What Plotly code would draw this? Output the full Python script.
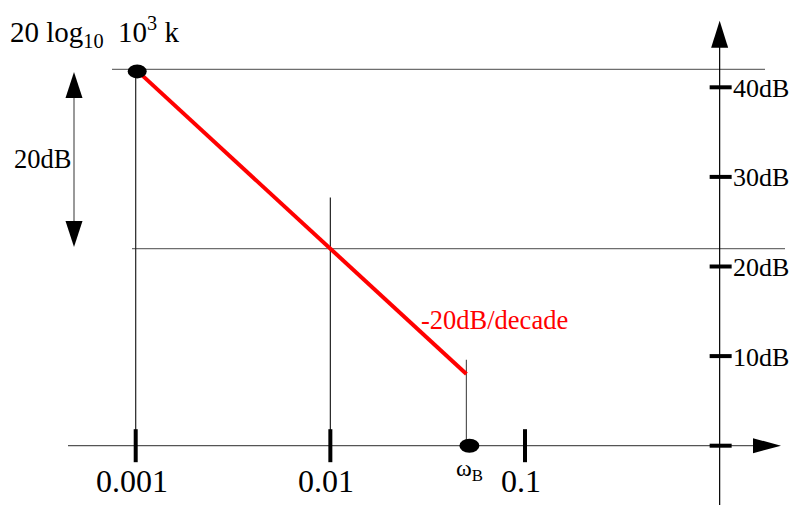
import numpy as np
import plotly.graph_objects as go

# ---------------- data ----------------
freq_ticks = [0.001, 0.01, 0.1]
freq_tick_labels = ["0.001", "0.01", "0.1"]
db_ticks = [0, 10, 20, 30, 40]
db_tick_labels = ["", "10dB", "20dB", "30dB", "40dB"]
asym_freq = [0.001, 0.01, 0.05]      # asymptote corner points
asym_db = [42, 22, 8.0]              # dB values along -20dB/decade line
omega_B = 0.05
start_db = 42
decade_db = 22
guide_top_01 = 27.7                  # top of the guide at 0.01
guide_top_wb = 9.6                   # top of the guide at omega_B

# ---------------- layout geometry ----------------
W, H = 795, 507
X0_PX, DEC_PX = 135.7, 194.65
Y0_PX, DB_PX = 445.7, 8.96
xmin = -3 - X0_PX / DEC_PX
xmax = xmin + W / DEC_PX
ymax = Y0_PX / DB_PX
ymin = -(H - Y0_PX) / DB_PX

def lx(px):
    return xmin + px / DEC_PX

def ly(py):
    return (Y0_PX - py) / DB_PX

FONT = "Liberation Serif"
fig = go.Figure()

lx_f = np.log10(asym_freq)
fig.add_trace(go.Scatter(x=lx_f, y=asym_db, mode="lines",
                         line=dict(color="#ff0000", width=4),
                         hoverinfo="skip", showlegend=False))

shapes = []
def seg(x0, y0, x1, y1, color="#000", width=1.2):
    shapes.append(dict(type="line", xref="x", yref="y", x0=x0, y0=y0, x1=x1, y1=y1,
                       line=dict(color=color, width=width), layer="below"))

# horizontal guide lines
seg(lx(112), start_db, lx(765), start_db, color="#6e6e6e")
seg(lx(132), decade_db, lx(785), decade_db, color="#6e6e6e")
# vertical guide lines
seg(np.log10(asym_freq[0]), 0, np.log10(asym_freq[0]), start_db, color="#222")
seg(np.log10(asym_freq[1]), 0, np.log10(asym_freq[1]), guide_top_01, color="#222")
seg(np.log10(omega_B), 0, np.log10(omega_B), guide_top_wb, color="#555")
# x axis
seg(lx(68), 0, lx(760), 0, color="#555")
# y axis (at omega = 1)
seg(0, ly(505), 0, ly(40), color="#000")
# left 20dB double arrow
seg(lx(74), ly(90), lx(74), ly(230), color="#555")

# x-axis ticks
for f in freq_ticks:
    shapes.append(dict(type="line", xref="x", yref="y", ysizemode="pixel",
                       yanchor=0, x0=np.log10(f), x1=np.log10(f), y0=-16.5, y1=16.5,
                       line=dict(color="#000", width=4)))
# y-axis ticks
for d in db_ticks:
    shapes.append(dict(type="line", xref="x", yref="y", xsizemode="pixel",
                       xanchor=0, x0=-10, x1=12, y0=d, y1=d,
                       line=dict(color="#000", width=4)))

# dots
shapes.append(dict(type="circle", xref="x", yref="y", xsizemode="pixel", ysizemode="pixel",
                   xanchor=np.log10(asym_freq[0]), yanchor=start_db,
                   x0=-8, x1=11, y0=-9, y1=5, fillcolor="#000", line=dict(width=0)))
shapes.append(dict(type="circle", xref="x", yref="y", xsizemode="pixel", ysizemode="pixel",
                   xanchor=np.log10(omega_B), yanchor=0,
                   x0=-7, x1=13, y0=-7, y1=7, fillcolor="#000", line=dict(width=0)))

# arrowheads
def head(xa, ya, path):
    shapes.append(dict(type="path", xref="x", yref="y", xsizemode="pixel", ysizemode="pixel",
                       xanchor=xa, yanchor=ya, path=path, fillcolor="#000",
                       line=dict(width=0)))

head(lx(781), 0, "M 0 0 L -28 7.5 L -28 -7.5 Z")
head(0, ly(20.7), "M 0 0 L -8.5 -27 L 8.5 -27 Z")
head(lx(74), ly(72), "M 0 0 L -8.5 -26 L 8.5 -26 Z")
head(lx(74), ly(247), "M 0 0 L -8.5 26 L 8.5 26 Z")

annotations = []
def ann(x, y, text, size, xanchor="center", yanchor="middle", color="#000", xshift=0, yshift=0,
        xref="x", yref="y"):
    annotations.append(dict(x=x, y=y, xref=xref, yref=yref, text=text, showarrow=False,
                            xanchor=xanchor, yanchor=yanchor, xshift=xshift, yshift=yshift,
                            font=dict(family=FONT, size=size, color=color)))

for f, t in zip(freq_ticks, freq_tick_labels):
    ann(np.log10(f), ly(481), t, 32, xshift=-4)
for d, t in zip(db_ticks, db_tick_labels):
    if t:
        ann(0, d, t, 26, xanchor="left", xshift=11, yshift=-1)

ann(np.log10(omega_B), ly(470), "ω<sub>B</sub>", 24, xanchor="left", xshift=-12)
ann(lx(419), ly(320), "-20dB/decade", 26.5, xanchor="left", color="#ff0000")
ann(lx(42), ly(159), "20dB", 26.5)
ann(8 / W, 1 - 32 / H, "20\u00a0log<sub>10</sub>\u00a0\u00a010<sup>3</sup>\u00a0k", 29,
    xanchor="left", xref="paper", yref="paper")

fig.update_layout(
    width=W, height=H, autosize=False,
    margin=dict(l=0, r=0, t=0, b=0),
    paper_bgcolor="#ffffff", plot_bgcolor="#ffffff",
    xaxis=dict(range=[xmin, xmax], visible=False, fixedrange=True),
    yaxis=dict(range=[ymin, ymax], visible=False, fixedrange=True),
    shapes=shapes, annotations=annotations, showlegend=False,
)
fig.write_html("out.html", config={"displayModeBar": False},
               post_script="document.body.style.margin='0px';")
